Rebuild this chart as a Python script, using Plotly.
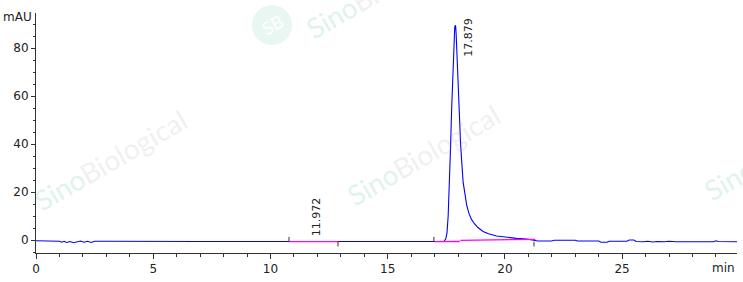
import plotly.graph_objects as go

# ---- data ----
time_min = [0.0, 0.5, 1.0, 1.1, 1.2, 1.3, 1.45, 1.6, 1.75, 1.9, 2.05, 2.2, 2.35, 2.5,
            3.0, 4.0, 5.0, 6.0, 7.0, 8.0, 9.0, 10.0, 10.8, 11.5, 12.0, 12.9, 13.5, 14.0,
            15.0, 16.0, 16.5, 17.0, 17.2, 17.4,
            17.48, 17.53, 17.58, 17.63, 17.68, 17.73, 17.77, 17.81, 17.84, 17.86, 17.88,
            17.90, 17.92, 17.94, 17.98, 18.04, 18.11, 18.17, 18.22, 18.30, 18.37, 18.47,
            18.58, 18.70, 18.85, 19.07, 19.30, 19.65, 20.0, 20.21, 20.5, 20.92, 21.28,
            21.4, 22.0, 22.1, 23.0, 23.1, 24.0, 24.1, 24.35, 24.45, 25.2, 25.3, 25.5,
            25.6, 25.9, 26.1, 26.3, 26.5, 26.8, 27.0, 27.3, 28.0, 28.9, 29.0, 29.1, 29.9]
absorbance_mau = [-0.3, -0.4, -0.5, -0.9, -0.5, -1.0, -0.6, -1.1, -0.7, -0.4, -0.9, -0.5, -1.0, -0.5,
                  -0.5, -0.6, -0.6, -0.6, -0.6, -0.6, -0.6, -0.6, -0.7, -0.7, -0.7, -0.7, -0.6, -0.6,
                  -0.6, -0.6, -0.7, -0.7, -0.7, -0.6,
                  0.5, 3.0, 10.0, 22.0, 38.0, 55.0, 68.0, 78.0, 85.0, 88.5, 89.5,
                  89.0, 86.0, 81.0, 68.0, 54.0, 40.0, 31.0, 24.0, 19.0, 14.5, 11.0,
                  8.5, 6.8, 5.2, 3.6, 2.6, 1.7, 1.2, 1.0, 0.7, 0.4, 0.0,
                  -0.4, -0.4, -0.1, -0.1, -0.4, -0.4, -0.9, -0.9, -0.5, -0.5, 0.0, 0.0,
                  -0.6, -0.7, -0.5, -0.8, -0.6, -0.7, -0.5, -0.7, -0.7, -0.7, -0.3, -0.6, -0.7]

# integration baselines (start/end time, start/end level)
baseline_t = [[10.8, 12.9], [17.0, 18.08], [18.1, 21.3]]
baseline_y = [[-0.7, -0.7], [-0.7, -0.6], [-0.1, 0.3]]

# integration event marks: time, direction (+1 up, -1 down)
event_t = [10.79, 12.88, 16.97, 21.24]
event_dir = [1, -1, 1, -1]
event_level = -0.7

peak_rt = [11.972, 17.879]
peak_label_y = [0.8, 93.3]
peak_label_anchor = ["bottom", "top"]

x_range = [0, 29.9]
y_range = [-5.4, 94.6]

fig = go.Figure()

# watermark logo circle (behind everything)
fig.add_shape(type="circle", xref="paper", yref="paper",
              x0=(252 - 36) / 701, x1=(292 - 36) / 701,
              y0=(253 - 45) / 240, y1=(253 - 5) / 240,
              fillcolor="#e9f7f2", line=dict(width=0), layer="below")

fig.add_trace(go.Scatter(x=time_min, y=absorbance_mau, mode="lines",
                         line=dict(color="#0000ff", width=1.1), hoverinfo="skip"))

for bt, by in zip(baseline_t, baseline_y):
    fig.add_trace(go.Scatter(x=bt, y=by, mode="lines",
                             line=dict(color="#ff00ff", width=1.3), hoverinfo="skip"))

ex, ey = [], []
for t, d in zip(event_t, event_dir):
    ex += [t, t, None]
    ey += [event_level, event_level + d * 2.0, None]
fig.add_trace(go.Scatter(x=ex, y=ey, mode="lines",
                         line=dict(color="#333333", width=1), hoverinfo="skip"))

for rt, py, anc in zip(peak_rt, peak_label_y, peak_label_anchor):
    fig.add_annotation(x=rt, y=py, xref="x", yref="y", text=f"{rt:.3f}",
                       textangle=-90, showarrow=False, yanchor=anc, xanchor="center",
                       xshift=0 if anc == "bottom" else 13,
                       font=dict(family="DejaVu Sans", size=11, color="#222222"))

# watermarks (semi-transparent so the trace shows through)
wm = '<span style="color:#30b687">Sino</span><span style="color:#a2a2a2">Biological</span>'
for (px, py) in [(110, 160), (423, 155), (780, 150), (382, -12)]:
    fig.add_annotation(xref="paper", yref="paper", x=(px - 36) / 701, y=(253 - py) / 240,
                       xanchor="center", yanchor="middle", opacity=0.15,
                       text=wm, textangle=-30, showarrow=False,
                       font=dict(family="Lato", size=28))
fig.add_annotation(xref="paper", yref="paper", x=(272 - 36) / 701, y=(253 - 25) / 240,
                   xanchor="center", yanchor="middle",
                   text="SB", textangle=-30, showarrow=False,
                   font=dict(family="Lato", size=18, color="#ffffff"))

fig.add_annotation(xref="paper", yref="paper", x=0, y=1, xanchor="right", yanchor="middle",
                   xshift=-2, yshift=-4, text="mAU", showarrow=False,
                   font=dict(family="DejaVu Sans", size=12, color="#222222"))
fig.add_annotation(xref="paper", yref="paper", x=1, y=0, xanchor="right", yanchor="top",
                   yshift=-6, text="min", showarrow=False,
                   font=dict(family="DejaVu Sans", size=12, color="#222222"))

axis_common = dict(showline=True, linecolor="#333333", linewidth=1, ticks="outside",
                   tickcolor="#333333", showgrid=False, zeroline=False,
                   tickfont=dict(family="DejaVu Sans", size=12, color="#222222"))

fig.update_xaxes(range=x_range, tick0=0, dtick=5, ticklen=5,
                 minor=dict(dtick=1, tick0=0, ticklen=3, ticks="outside", tickcolor="#333333",
                            showgrid=False),
                 **axis_common)
fig.update_yaxes(range=y_range, tick0=0, dtick=20, ticklen=4,
                 minor=dict(dtick=5, tick0=0, ticklen=2, ticks="outside", tickcolor="#333333",
                            showgrid=False),
                 **axis_common)

fig.update_layout(width=743, height=282, margin=dict(l=36, r=6, t=13, b=29),
                  plot_bgcolor="white", paper_bgcolor="white", showlegend=False)

fig.write_html("out.html")
